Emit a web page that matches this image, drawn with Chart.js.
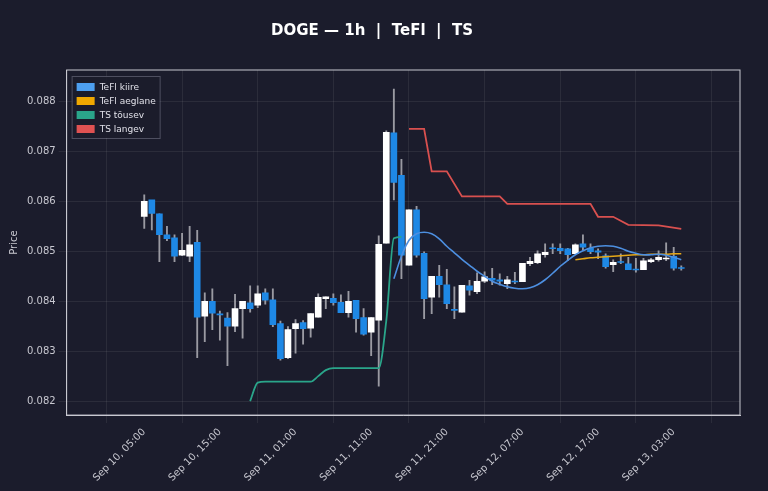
<!DOCTYPE html>
<html><head><meta charset="utf-8">
<script src="https://cdn.jsdelivr.net/npm/chart.js@4.4.1/dist/chart.umd.min.js"></script>
<style>html,body{margin:0;background:#1b1c2c;}#w{width:768px;height:491px;}</style>
</head><body><div id="w"><canvas id="c"></canvas></div>
<script>
const tickLabels = ["Sep 10, 05:00","Sep 10, 15:00","Sep 11, 01:00","Sep 11, 11:00","Sep 11, 21:00","Sep 12, 07:00","Sep 12, 17:00","Sep 13, 03:00"];
const opens  = [0.0857,0.08603,0.08575,0.08533,0.08527,0.08492,0.0849,0.08518,0.0837,0.084,0.08374,0.08366,0.0835,0.08385,0.08397,0.08392,0.08417,0.08403,0.08355,0.08287,0.08345,0.08357,0.08346,
0.08368,0.08405,0.08406,0.08398,0.08377,0.08402,0.08367,0.08338,0.08362,0.08516,0.08737,0.08652,0.08472,0.08583,0.08496,0.08408,0.0845,0.08433,0.08383,0.08378,0.08431,0.08419,0.0844,0.08446,0.08443,
0.08435,0.0844,0.08439,0.08475,0.08477,0.08493,0.08507,0.08506,0.08505,0.08495,0.08515,0.08506,0.08501,0.08491,0.08473,0.08479,0.08475,0.08464,0.08463,0.08479,0.08483,0.08485,0.0849,0.08467];
const closes = [0.0860,0.08576,0.08533,0.08525,0.0849,0.08502,0.08513,0.08368,0.084,0.08376,0.08373,0.0835,0.08385,0.084,0.08385,0.08415,0.08402,0.08353,0.08285,0.08343,0.08355,0.08345,0.08375,
0.08408,0.08409,0.08397,0.08377,0.084,0.08365,0.08334,0.08367,0.08514,0.08738,0.08638,0.08492,0.08583,0.08492,0.08405,0.0845,0.08433,0.08395,0.08382,0.08432,0.08422,0.0844,0.08449,0.08442,0.0844,
0.08443,0.08439,0.08476,0.0848,0.08495,0.08498,0.08505,0.08501,0.08493,0.08513,0.08508,0.08499,0.08498,0.08469,0.08478,0.08478,0.08463,0.08463,0.08481,0.08483,0.08488,0.08486,0.08466,0.08466];
const highs  = [0.08613,0.0860,0.08575,0.0855,0.08533,0.08536,0.0855,0.08542,0.08417,0.08425,0.0838,0.08377,0.08414,0.084,0.08431,0.08431,0.08425,0.08425,0.0836,0.08349,0.08363,0.08361,0.08375,
0.08415,0.08409,0.08415,0.08413,0.0842,0.08402,0.08385,0.08367,0.08531,0.08741,0.08825,0.08684,0.08583,0.0859,0.08499,0.0845,0.08472,0.08464,0.08429,0.08432,0.08442,0.08457,0.08459,0.08466,0.08455,
0.0845,0.08458,0.08476,0.08488,0.08501,0.08515,0.08515,0.08515,0.08506,0.08515,0.08533,0.08515,0.08505,0.08495,0.08483,0.08495,0.08488,0.08486,0.08486,0.08486,0.08501,0.08517,0.08508,0.08471];
const lows   = [0.08546,0.08543,0.08479,0.08521,0.08479,0.08491,0.08479,0.08287,0.08319,0.08343,0.08322,0.08271,0.08339,0.08326,0.08378,0.08387,0.08394,0.08349,0.08282,0.08285,0.08296,0.08314,0.08328,
0.08368,0.08385,0.08392,0.08377,0.08368,0.08338,0.08332,0.08291,0.0823,0.08516,0.08603,0.08445,0.08472,0.08488,0.08365,0.08375,0.08408,0.08385,0.08365,0.08378,0.08412,0.08415,0.08437,0.08433,0.08432,
0.08425,0.08435,0.08439,0.08471,0.08475,0.08488,0.08495,0.08495,0.08481,0.08495,0.08502,0.08495,0.08485,0.08466,0.08459,0.08475,0.08463,0.08458,0.08463,0.08477,0.0848,0.08481,0.08462,0.08462];
const tsUpIdx = [14,15,16,22,23,24,25,31,32,33,34];
const tsUp    = [0.0820,0.08237,0.08239,0.08239,0.0825,0.08262,0.08266,0.08266,0.08361,0.08526,0.08529];
const tsDownIdx = [35,37,38,40,42,47,48,59,60,62,64,68,71];
const tsDown    = [0.08745,0.08745,0.0866,0.0866,0.0861,0.0861,0.08595,0.08595,0.08569,0.08569,0.08553,0.08552,0.08545];
const fastStart = 33;
const tefFast = [0.08445,0.0849,0.08522,0.08535,0.08538,0.08535,0.08525,0.0851,0.08497,0.08484,0.08472,0.0846,0.0845,0.0844,0.08434,0.08429,0.08426,0.08425,0.08427,0.08433,0.08443,0.08456,0.0847,0.08482,0.08493,0.08501,0.08507,0.0851,0.08511,0.0851,0.08506,0.085,0.08496,0.08493,0.08493,0.08494,0.08492,0.08488,0.08483];
const slowStart = 57;
const tefSlow = [0.08483,0.08485,0.08487,0.08488,0.08489,0.0849,0.08491,0.08492,0.08493,0.08493,0.08494,0.08494,0.08494,0.08495,0.08495];

const UP='#ffffff', DN='#1e88e5';
const idx = opens.map((_,i)=>i);
const wickData = idx.map(i=>({x:i,y:[lows[i],highs[i]]}));
const bodyData = idx.map(i=>{let a=opens[i],b=closes[i];if(Math.abs(a-b)<0.00002){const m=(a+b)/2;a=m-0.00001;b=m+0.00001;}return {x:i,y:[a,b]};});
const bodyCol = idx.map(i=>closes[i]>=opens[i]?UP:DN);
const pts=(xs,ys)=>xs.map((x,k)=>({x:x,y:ys[k]}));

const legendPlugin={id:'lp',afterDraw(ch){const a=ch.chartArea;const c=ch.ctx;c.save();
 const items=ch.data.datasets.filter(d=>d.type==='line');
 const x0=a.left+5,y0=a.top+6,rowH=14,w=88,h=items.length*rowH+6;
 c.fillStyle='rgba(27,28,44,0.85)';c.fillRect(x0,y0,w,h);
 c.strokeStyle='rgba(200,200,220,0.3)';c.lineWidth=1;c.strokeRect(x0+0.5,y0+0.5,w,h);
 c.font='9px "DejaVu Sans"';c.textBaseline='middle';
 items.forEach((d,k)=>{const yy=y0+4+k*rowH+rowH/2;c.fillStyle=d.backgroundColor;c.fillRect(x0+5,yy-4,18,8);c.fillStyle='#e0e0e8';c.fillText(d.label,x0+28,yy+0.5);});
 c.strokeStyle='#c8c8d0';c.strokeRect(a.left,a.top,a.right-a.left,a.bottom-a.top);c.restore();}};
const bgPlugin={id:'bg',beforeDraw(ch){const c=ch.ctx;c.save();c.fillStyle='#1b1c2c';c.fillRect(0,0,ch.width,ch.height);c.restore();}};

new Chart(document.getElementById('c'),{
 data:{datasets:[
  {type:'bar',label:'w',data:wickData,backgroundColor:'#9a9aa2',barThickness:1.2,grouped:false,order:3},
  {type:'bar',label:'b',data:bodyData,backgroundColor:bodyCol,barThickness:6,grouped:false,order:2},
  {type:'line',label:'TeFl kiire',data:pts(tefFast.map((_,k)=>fastStart+k),tefFast),borderColor:'#4d8fe0',backgroundColor:'#4d9ff0',borderWidth:1.6,pointRadius:0,tension:0.4,order:1},
  {type:'line',label:'TeFl aeglane',data:pts(tefSlow.map((_,k)=>slowStart+k),tefSlow),borderColor:'#e6a817',backgroundColor:'#f0a800',borderWidth:1.6,pointRadius:0,tension:0.4,order:1},
  {type:'line',label:'TS tõusev',data:pts(tsUpIdx,tsUp),borderColor:'#2aa58a',backgroundColor:'#2aa58a',borderWidth:1.8,pointRadius:0,cubicInterpolationMode:'monotone',order:1},
  {type:'line',label:'TS langev',data:pts(tsDownIdx,tsDown),borderColor:'#d9504f',backgroundColor:'#e05252',borderWidth:1.8,pointRadius:0,tension:0,order:1}
 ]},
 options:{responsive:true,maintainAspectRatio:false,animation:false,
  layout:{padding:{left:4,right:28,top:6,bottom:4}},
  plugins:{
   title:{display:true,text:'DOGE — 1h  |  TeFl  |  TS',color:'#ffffff',font:{family:'DejaVu Sans',size:15,weight:'bold'},padding:{top:16,bottom:30}},
   legend:{display:false},
   tooltip:{enabled:false}},
  scales:{
   x:{type:'linear',min:-4.7,max:73.2,
    afterBuildTicks:(ax)=>{ax.ticks=tickLabels.map((_,k)=>({value:k*10}));},
    ticks:{color:'#c8c8d0',font:{family:'DejaVu Sans',size:10},maxRotation:45,minRotation:45,callback:(v)=>tickLabels[Math.round(v/10)]},
    grid:{color:'rgba(255,255,255,0.07)'},border:{color:'#c8c8d0'}},
   y:{min:0.08172,max:0.08863,
    afterBuildTicks:(ax)=>{ax.ticks=[0.082,0.083,0.084,0.085,0.086,0.087,0.088].map(v=>({value:v}));},
    ticks:{color:'#c8c8d0',font:{family:'DejaVu Sans',size:10},callback:(v)=>v.toFixed(3)},
    title:{display:true,text:'Price',color:'#c8c8d0',font:{family:'DejaVu Sans',size:10}},
    grid:{color:'rgba(255,255,255,0.07)'},border:{color:'#c8c8d0'}}
  }},
 plugins:[bgPlugin,legendPlugin]
});
</script></body></html>
